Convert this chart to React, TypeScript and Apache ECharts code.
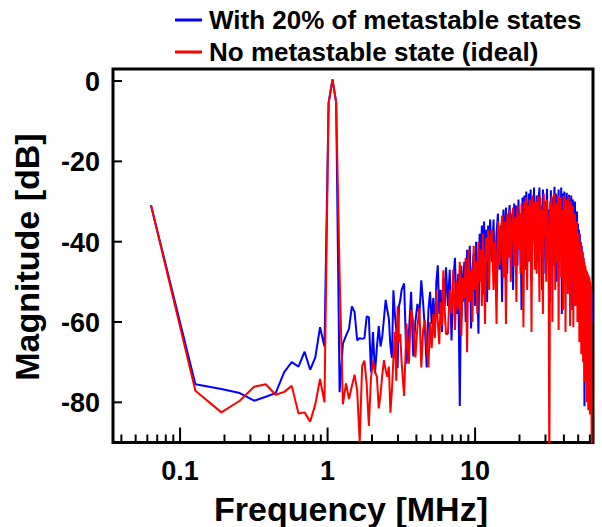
import React, { useEffect, useRef } from 'react';
import * as echarts from 'echarts';

// FFT bin width in MHz
const DF = 0.0635;
const X_MIN = 0.0351;
const X_MAX = 63;
const Y_MIN = -90;
const Y_MAX = 3;

const FONT = '"Liberation Sans", Arial, Helvetica, sans-serif';

const BLUE_NAME = 'With 20% of metastable states';
const RED_NAME = 'No metastable state (ideal)';

// ---- segment A: bins 1..50
const binsA = [1, 2, 3, 4, 5, 6, 7, 8, 9, 10, 11, 12, 13, 14, 15, 16, 17, 18, 19, 20,
  21, 22, 23, 24, 25, 26, 27, 28, 29, 30, 31, 32, 33, 34, 35, 36, 37, 38, 39, 40,
  41, 42, 43, 44, 45, 46, 47, 48, 49, 50];
const blueA = [-30.9, -75.5, -76.7, -77.7, -79.6, -78.6, -77.7, -72.5, -70.0, -71.1,
  -67.4, -71.9, -68.8, -61.3, -66.1, -5.5, 0.4, -5.3, -77.5, -65.4,
  -63.4, -61.7, -56.1, -57.5, -64.6, -64.0, -64.2, -64.0, -58.6, -58.8,
  -72.5, -62.5, -72.8, -66.3, -61.0, -66.1, -63.5, -59.0, -54.5, -57.0,
  -59.2, -66.0, -68.9, -52.1, -58.0, -61.7, -71.5, -56.0, -54.6, -52.0];
const redA = [-30.9, -77.1, -82.5, -79.6, -76.1, -75.5, -78.1, -77.4, -75.9, -82.8,
  -82.5, -84.8, -80.5, -74.2, -80.0, -5.5, 0.4, -5.3, -48.0, -80.5,
  -75.3, -79.2, -76.0, -73.1, -77.1, -89.8, -71.0, -69.6, -75.5, -85.9,
  -74.0, -69.6, -72.3, -73.6, -81.5, -78.0, -73.1, -69.5, -72.0, -73.6,
  -71.1, -82.6, -77.0, -69.2, -62.5, -74.6, -56.1, -65.0, -63.0, -70.0];

// ---- segment B: bins 52..100 step 2
const binsB = [52, 54, 56, 58, 60, 62, 64, 66, 68, 70, 72, 74, 76, 78, 80, 82, 84, 86, 88, 90,
  92, 94, 96, 98, 100];
const blueB = [-50.4, -70.4, -63.0, -52.5, -68.6, -60.0, -55.5, -58.0, -49.6, -55.4,
  -62.0, -71.3, -57.0, -52.5, -60.5, -54.0, -63.5, -50.0, -45.9, -58.0,
  -52.0, -62.5, -49.0, -56.0, -46.4];
const redB = [-78.4, -60.4, -70.4, -57.0, -60.0, -68.8, -61.3, -56.5, -71.3, -62.0,
  -59.6, -66.0, -71.3, -60.0, -66.5, -58.0, -64.0, -52.1, -60.0, -65.5,
  -55.0, -61.0, -47.1, -57.0, -63.0];

// ---- segment C: bins 103..199 step 3
const binsC = [103, 106, 109, 112, 115, 118, 121, 124, 127, 130, 133, 136, 139, 142, 145, 148,
  151, 154, 157, 160, 163, 166, 169, 172, 175, 178, 181, 184, 187, 190, 193, 196, 199];
const blueC = [-56, -47, -64.6, -50, -44, -58, -48, -80.9, -46, -55,
  -45, -60, -42, -52, -41, -61.6, -47, -43, -56, -40,
  -50, -62.9, -38, -48, -36, -53, -35, -44, -37, -55,
  -36, -46, -34.5];
const redC = [-63, -52, -58, -47, -62, -50, -57, -45, -63.5, -49,
  -54, -44, -67.5, -42, -55, -47, -60, -41, -52, -45,
  -58, -40, -50, -42, -56, -38, -47, -60.5, -39, -45,
  -37, -52, -40];

// ---- segment D: bins 205..400 step 5
const binsD = [205, 210, 215, 220, 225, 230, 235, 240, 245, 250, 255, 260, 265, 270, 275, 280,
  285, 290, 295, 300, 305, 310, 315, 320, 325, 330, 335, 340, 345, 350, 355, 360, 365, 370,
  375, 380, 385, 390, 395, 400];
const blueD = [-45, -34.5, -50, -38, -33, -47, -36, -55, -32, -42,
  -31.5, -48, -35, -30.9, -44, -33, -52, -30.5, -38, -31,
  -46, -29.5, -40, -33, -57, -29, -36, -28.5, -47, -27.5,
  -34, -44, -28, -38, -27, -50, -29, -35, -26.5, -42];
const redD = [-37, -52, -40, -60.5, -35, -46, -38, -33.5, -49, -35,
  -60.5, -33, -44, -32, -50, -36, -31.5, -46, -34, -55,
  -31, -42, -33, -48, -30.5, -38, -61.3, -30, -41, -29,
  -52, -31, -45, -29.5, -36, -62.5, -28.5, -40, -30, -47];

// ---- segment E: bins 406..976 step 6
const binsE = [406, 412, 418, 424, 430, 436, 442, 448, 454, 460, 466, 472, 478, 484, 490, 496,
  502, 508, 514, 520, 526, 532, 538, 544, 550, 556, 562, 568, 574, 580, 586, 592, 598, 604,
  610, 616, 622, 628, 634, 640, 646, 652, 658, 664, 670, 676, 682, 688, 694, 700, 706, 712,
  718, 724, 730, 736, 742, 748, 754, 760, 766, 772, 778, 784, 790, 796, 802, 808, 814, 820,
  826, 832, 838, 844, 850, 856, 862, 868, 874, 880, 886, 892, 898, 904, 910, 916, 922, 928,
  934, 940, 946, 952, 958, 964, 970, 976];
const blueE = [-38, -28.5, -45, -30, -26.5, -41, -31, -52, -27, -35,
  -30, -48, -32, -26.8, -40, -32, -33, -55, -27.2, -37,
  -29, -46, -31.5, -26.3, -39, -28, -50, -31, -34, -27,
  -43, -30.5, -36, -26.5, -58, -28, -31.5, -41, -27.5, -35,
  -30, -47, -27.8, -33, -29, -52, -28.3, -38, -31, -44,
  -28.5, -32, -57, -29.5, -40, -31, -48, -30, -36, -33,
  -51, -32.5, -42, -35.5, -58, -37, -45, -38, -62.5, -40,
  -48, -41, -55, -42.5, -60, -44, -52, -81, -46, -55,
  -47, -62, -48, -57, -49, -65, -50, -58, -50.5, -66,
  -51, -62, -51.5, -68, -52, -60];
const redE = [-30, -48, -28.5, -36, -55, -29, -42, -32, -58, -28,
  -39, -31, -50, -29.5, -35, -46, -100, -30, -44, -28.5,
  -60, -31, -38, -28, -52, -30.5, -33, -45, -28.5, -62,
  -31, -40, -29, -49, -32, -36, -57, -28.5, -42, -31,
  -62.5, -29.5, -39, -32, -53, -28.8, -45, -31.5, -61, -30,
  -42, -33, -50, -31, -61.3, -34, -44, -33, -56, -36,
  -47, -35, -60, -38, -52, -38, -65, -40, -50, -41,
  -68, -42, -55, -43, -70, -44, -60, -45, -75, -46,
  -66, -47, -80, -47.5, -70, -48, -82, -48.5, -74, -49,
  -83, -50, -78, -51, -86, -100];

// ---- axis ticks
const xMajor = [0.1, 1, 10];
const xMajorLabels = ['0.1', '1', '10'];
const xMinor = [0.04, 0.05, 0.06, 0.07, 0.08, 0.09,
  0.2, 0.3, 0.4, 0.5, 0.6, 0.7, 0.8, 0.9,
  2, 3, 4, 5, 6, 7, 8, 9,
  20, 30, 40, 50, 60];
const yTicks = [0, -20, -40, -60, -80];
const yTickLabels = ['0', '-20', '-40', '-60', '-80'];

function pairs(bins: number[][], vals: number[][]) {
  const out: number[][] = [];
  bins.forEach((seg, s) => {
    seg.forEach((b, i) => out.push([b * DF, vals[s][i]]));
  });
  return out;
}

const blueData = pairs([binsA, binsB, binsC, binsD, binsE], [blueA, blueB, blueC, blueD, blueE]);
const redData = pairs([binsA, binsB, binsC, binsD, binsE], [redA, redB, redC, redD, redE]);

export default function App() {
  const ref = useRef<HTMLDivElement>(null);
  useEffect(() => {
    document.body.style.margin = '0';
    const chart = echarts.init(ref.current as HTMLDivElement, null, { renderer: 'svg' });
    const xTickData = [
      ...xMajor.map((v, i) => [v, Y_MIN, 1, i]),
      ...xMinor.map((v) => [v, Y_MIN, 0, -1]),
    ];
    const yTickData = yTicks.map((v, i) => [X_MIN, v, i]);
    const option: any = {
      animation: false,
      backgroundColor: '#fff',
      grid: {
        left: 113, top: 69, width: 480, height: 373.5,
        show: true, borderColor: '#000', borderWidth: 3, backgroundColor: 'transparent',
      },
      legend: {
        data: [BLUE_NAME, RED_NAME],
        orient: 'vertical',
        left: 170,
        top: 2,
        itemWidth: 27,
        itemHeight: 3,
        itemGap: 6,
        icon: 'rect',
        selectedMode: false,
        textStyle: {
          fontSize: 26, fontWeight: 'bold', fontFamily: FONT, color: '#000',
          lineHeight: 26, padding: [0, 0, 0, 2],
        },
      },
      xAxis: {
        type: 'log', logBase: 10, min: X_MIN, max: X_MAX,
        axisLine: { show: false }, axisTick: { show: false }, axisLabel: { show: false },
        splitLine: { show: false }, minorTick: { show: false }, minorSplitLine: { show: false },
      },
      yAxis: {
        type: 'value', min: Y_MIN, max: Y_MAX,
        axisLine: { show: false }, axisTick: { show: false }, axisLabel: { show: false },
        splitLine: { show: false },
      },
      graphic: [
        {
          type: 'text', x: 351, y: 508.5, z: 10,
          style: {
            text: 'Frequency [MHz]', align: 'center', verticalAlign: 'middle',
            fontSize: 34, fontWeight: 'bold', fontFamily: FONT, fill: '#000',
          },
        },
        {
          type: 'text', x: 27, y: 257, rotation: Math.PI / 2, z: 10,
          style: {
            text: 'Magnitude [dB]', align: 'center', verticalAlign: 'middle',
            fontSize: 34, fontWeight: 'bold', fontFamily: FONT, fill: '#000',
          },
        },
      ],
      series: [
        {
          name: BLUE_NAME, type: 'line', data: blueData, showSymbol: false, symbol: 'none',
          color: '#0000ff', lineStyle: { color: '#0000ff', width: 2 }, z: 2,
        },
        {
          name: RED_NAME, type: 'line', data: redData, showSymbol: false, symbol: 'none',
          color: '#ff0000', lineStyle: { color: '#ff0000', width: 2 }, z: 3,
        },
        {
          name: 'xticks', type: 'custom', silent: true, clip: false, z: 5,
          data: xTickData,
          renderItem: (params: any, api: any) => {
            const v = api.value(0);
            const major = api.value(2) === 1;
            const li = api.value(3);
            const p = api.coord([v, Y_MIN]);
            const len = major ? 15 : 8;
            const children: any[] = [{
              type: 'line',
              shape: { x1: p[0], y1: p[1], x2: p[0], y2: p[1] - len },
              style: { stroke: '#000', lineWidth: 2 },
            }];
            if (major) {
              children.push({
                type: 'text',
                style: {
                  text: xMajorLabels[li], x: p[0], y: p[1] + 28.5,
                  align: 'center', verticalAlign: 'middle',
                  fontSize: 27, fontWeight: 'bold', fontFamily: FONT, fill: '#000',
                },
              });
            }
            return { type: 'group', children };
          },
        },
        {
          name: 'yticks', type: 'custom', silent: true, clip: false, z: 5,
          data: yTickData,
          renderItem: (params: any, api: any) => {
            const v = api.value(1);
            const li = api.value(2);
            const p = api.coord([X_MIN, v]);
            return {
              type: 'group',
              children: [
                {
                  type: 'line',
                  shape: { x1: p[0], y1: p[1], x2: p[0] + 9, y2: p[1] },
                  style: { stroke: '#000', lineWidth: 2 },
                },
                {
                  type: 'text',
                  style: {
                    text: yTickLabels[li], x: p[0] - 13, y: p[1] + 1,
                    align: 'right', verticalAlign: 'middle',
                    fontSize: 27, fontWeight: 'bold', fontFamily: FONT, fill: '#000',
                  },
                },
              ],
            };
          },
        },
      ],
    };
    chart.setOption(option);
    return () => chart.dispose();
  }, []);
  return <div ref={ref} style={{ width: 602, height: 527 }} />;
}
